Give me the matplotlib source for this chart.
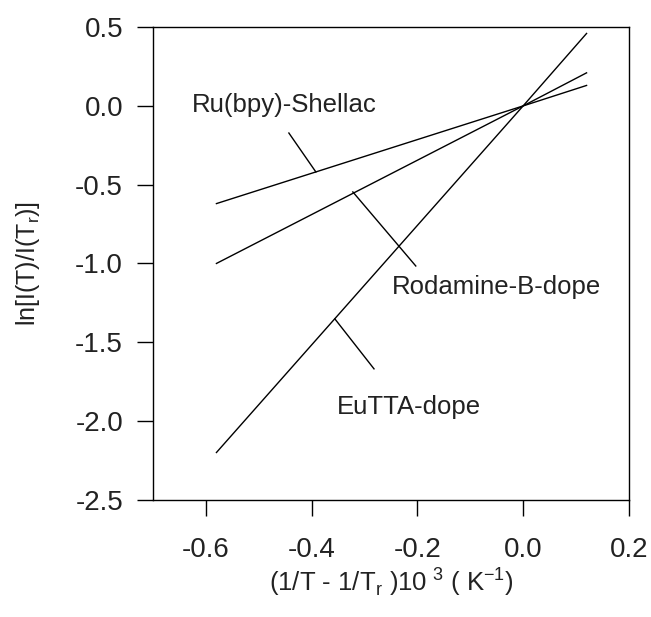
import numpy as np
import matplotlib
matplotlib.use("Agg")
import matplotlib.pyplot as plt

plt.rcParams['font.family'] = ['Liberation Sans', 'DejaVu Sans']

# Datos
x_ini = [-0.58, 0.0, 0.12]
eutta = [-2.20, 0.0, 0.46]
rodamina = [-1.00, 0.0, 0.21]
ru_shellac = [-0.62, 0.0, 0.13]

# Líneas guía de las etiquetas (x1, x2), (y1, y2)
guia_ru = ([-0.443, -0.392], [-0.172, -0.419])
guia_rod = ([-0.322, -0.203], [-0.546, -1.016])
guia_eu = ([-0.356, -0.282], [-1.352, -1.669])

etiquetas = ["Ru(bpy)-Shellac", "Rodamine-B-dope", "EuTTA-dope"]
pos_etiquetas = [(-0.627, 0.006), (-0.248, -1.149), (-0.352, -1.91)]

xticks = [-0.6, -0.4, -0.2, 0.0, 0.2]
yticks = [0.5, 0.0, -0.5, -1.0, -1.5, -2.0, -2.5]

fig = plt.figure(figsize=(6.51, 6.17), dpi=100)
ax = fig.add_axes([0.235, 0.190, 0.731, 0.766])

for serie in [eutta, rodamina, ru_shellac]:
    ax.plot(x_ini, serie, color="black", linewidth=1.0)
for gx, gy in [guia_ru, guia_rod, guia_eu]:
    ax.plot(gx, gy, color="black", linewidth=1.0)
for texto, (tx, ty) in zip(etiquetas, pos_etiquetas):
    ax.text(tx, ty, texto, fontsize=18.5, ha="left", va="center", color="#222222")

ax.set_xlim(-0.7, 0.2)
ax.set_ylim(-2.5, 0.5)
ax.set_xticks(xticks)
ax.set_yticks(yticks)
ax.set_xticklabels([f"{v:.1f}" for v in xticks])
ax.set_yticklabels([f"{v:.1f}" for v in yticks])
ax.tick_params(direction="out", length=11.5, width=1.0, labelsize=20, labelcolor="#222222")
ax.tick_params(axis="x", pad=15)
ax.tick_params(axis="y", pad=10)
for s in ax.spines.values():
    s.set_linewidth(1.0)

ax.set_xlabel(r"(1/T - 1/T$_{\mathregular{r}}$ )10$^{\mathregular{\ 3}}$ ( K$^{\mathregular{-1}}$)",
              fontsize=18.5, labelpad=2, color="#222222")
ax.set_ylabel(r"ln[I(T)/I(T$_{\mathregular{r}}$)]", fontsize=18, labelpad=24, color="#222222")

plt.savefig("out.png", dpi=100)
